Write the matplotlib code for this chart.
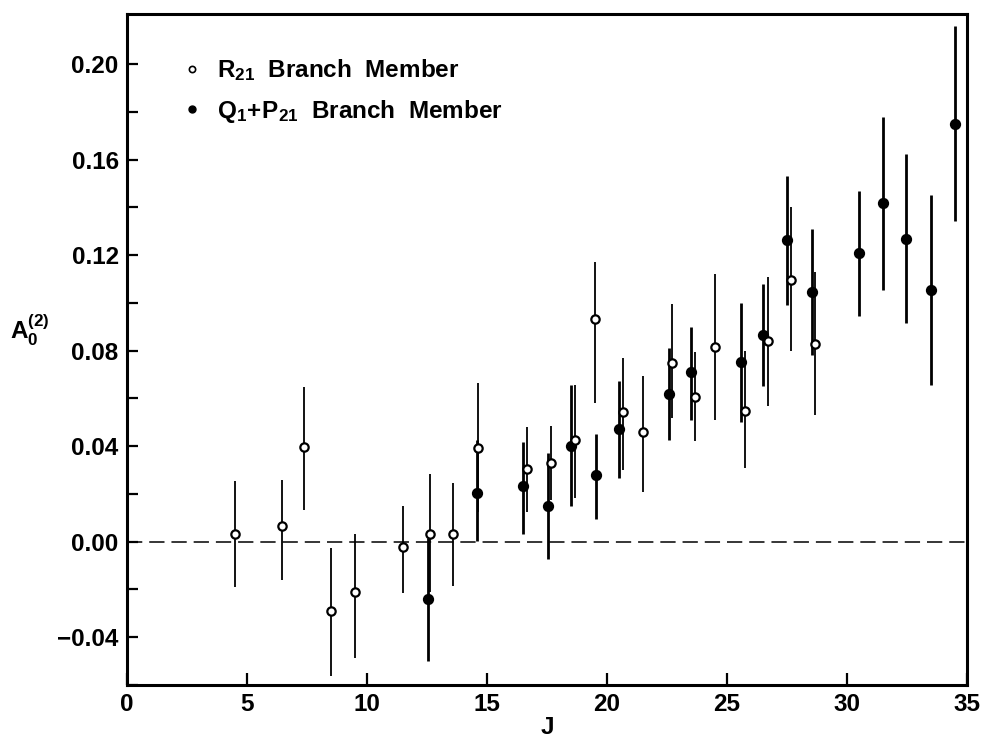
import matplotlib
matplotlib.use("Agg")
import matplotlib.pyplot as plt
from matplotlib.lines import Line2D
import numpy as np

# ---- data ----
# R21 branch members (open circles): J, A0(2), upper bar end, lower bar end
r21_J = [4.5, 6.45, 7.39, 8.48, 9.48, 11.5, 12.64, 13.59, 14.63, 16.65, 17.68,
         18.66, 19.5, 20.65, 21.51, 22.69, 23.67, 24.48, 25.73, 26.69, 27.67, 28.68]
r21_A = [0.0034, 0.0064, 0.0395, -0.0289, -0.0212, -0.0024, 0.0034, 0.0034, 0.0394,
         0.0306, 0.033, 0.0427, 0.0934, 0.0543, 0.046, 0.0748, 0.0607, 0.0814,
         0.0546, 0.0839, 0.1096, 0.0829]
r21_hi = [0.0256, 0.026, 0.0648, -0.0027, 0.0032, 0.015, 0.0285, 0.0248, 0.0665,
          0.048, 0.0483, 0.0658, 0.117, 0.077, 0.0695, 0.0997, 0.0793, 0.112,
          0.0797, 0.111, 0.140, 0.113]
r21_lo = [-0.0188, -0.016, 0.0131, -0.0561, -0.0487, -0.0214, -0.021, -0.0184, 0.0123,
          0.0123, 0.0176, 0.0183, 0.058, 0.030, 0.021, 0.0518, 0.042, 0.051,
          0.0309, 0.057, 0.080, 0.053]

# Q1+P21 branch members (filled circles)
qp_J = [12.55, 14.59, 16.5, 17.54, 18.5, 19.56, 20.51, 22.57, 23.48, 25.58, 26.5,
        27.49, 28.54, 30.5, 31.5, 32.46, 33.5, 34.5]
qp_A = [-0.024, 0.0204, 0.0232, 0.0151, 0.0402, 0.0278, 0.0472, 0.0619, 0.0711,
        0.0751, 0.0864, 0.1262, 0.1047, 0.121, 0.142, 0.1268, 0.1055, 0.175]
qp_hi = [0.0017, 0.0427, 0.0418, 0.0372, 0.0658, 0.0452, 0.0671, 0.081, 0.090,
         0.100, 0.108, 0.153, 0.131, 0.1467, 0.1777, 0.1625, 0.145, 0.216]
qp_lo = [-0.050, 0.0001, 0.0034, -0.0071, 0.0151, 0.0095, 0.0267, 0.0427, 0.051,
         0.050, 0.0653, 0.0993, 0.078, 0.0944, 0.1055, 0.0916, 0.0658, 0.1344]

x_ticks = [0, 5, 10, 15, 20, 25, 30, 35]
y_ticks = [-0.04, 0.00, 0.04, 0.08, 0.12, 0.16, 0.20]

# ---- style ----
FONT = "Liberation Sans"
plt.rcParams["font.family"] = [FONT, "DejaVu Sans"]
plt.rcParams["font.weight"] = "bold"
plt.rcParams["mathtext.fontset"] = "custom"
plt.rcParams["mathtext.rm"] = FONT + ":bold"
plt.rcParams["mathtext.it"] = FONT + ":bold"
plt.rcParams["mathtext.bf"] = FONT + ":bold"
plt.rcParams["lines.scale_dashes"] = False

FS = 17.5

fig = plt.figure(figsize=(9.85, 7.39), dpi=100)
ax = fig.add_axes([127 / 985, 1 - 685 / 739, (967 - 127) / 985, (685 - 14) / 739])

ax.axhline(0.0, color="black", lw=1.1, dashes=(11, 5), zorder=1)

def draw(J, A, hi, lo, filled, lw):
    J = np.asarray(J); A = np.asarray(A)
    err = np.vstack([A - np.asarray(lo), np.asarray(hi) - A])
    ax.errorbar(J, A, yerr=err, fmt="none", ecolor="black", elinewidth=lw,
                capsize=0, zorder=2)
    ax.plot(J, A, "o", ms=6.5 if filled else 6.0,
            mfc="black" if filled else "white", mec="black", mew=1.6,
            ls="none", zorder=3)

draw(qp_J, qp_A, qp_hi, qp_lo, True, 2.0)
draw(r21_J, r21_A, r21_hi, r21_lo, False, 1.3)

ax.set_xlim(0, 35)
ax.set_ylim(-0.06, 0.221)
ax.set_xticks(x_ticks)
ax.set_xticklabels([str(t) for t in x_ticks])
ax.set_yticks(y_ticks)
ax.set_yticklabels([f"{t:.2f}".replace("-", "\u2212") for t in y_ticks])
ax.set_yticks(np.arange(-0.06, 0.2001, 0.02), minor=True)

for s in ["left", "bottom", "top", "right"]:
    ax.spines[s].set_linewidth(2.2)
ax.tick_params(axis="both", which="both", direction="in", width=1.6,
               top=False, right=False, labelsize=FS)
ax.tick_params(axis="y", which="major", length=8, pad=6)
ax.tick_params(axis="y", which="minor", length=8)
ax.tick_params(axis="x", which="major", length=9, pad=6)
for lab in ax.get_xticklabels() + ax.get_yticklabels():
    lab.set_fontweight("bold")

ax.set_xlabel("J", fontsize=FS, fontweight="bold", labelpad=0)
fig.text(10 / 985, 1 - 330 / 739, r"$\mathrm{A_0^{(2)}}$", fontsize=FS,
         ha="left", va="center")

handles = [
    Line2D([], [], marker="o", ls="none", ms=4.5, mfc="white", mec="black", mew=1.2),
    Line2D([], [], marker="o", ls="none", ms=5, mfc="black", mec="black"),
]
labels = [r"$\mathrm{R_{21}}$  Branch  Member",
          r"$\mathrm{Q_1\!+\!P_{21}}$  Branch  Member"]
leg = ax.legend(handles, labels, loc="upper left", frameon=False,
                bbox_to_anchor=(0.043, 0.968), handlelength=0.6,
                handletextpad=0.7, labelspacing=0.6,
                prop={"family": FONT, "weight": "bold", "size": FS})

fig.savefig("out.png", dpi=100)
